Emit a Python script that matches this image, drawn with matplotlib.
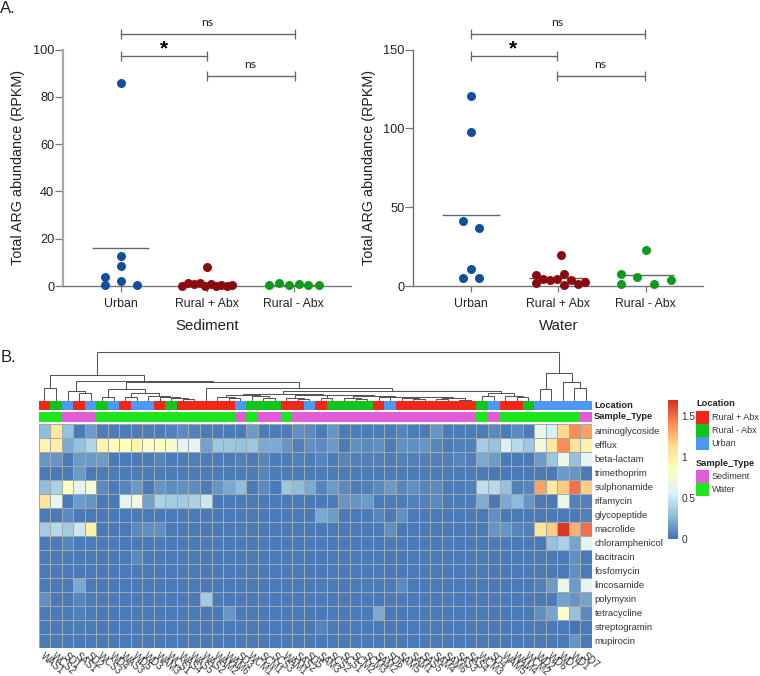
import numpy as np
import matplotlib
matplotlib.use('Agg')
import matplotlib.pyplot as plt
from matplotlib.colors import LinearSegmentedColormap, ListedColormap
from matplotlib.patches import Rectangle

plt.rcParams['font.family'] = ['Liberation Sans', 'DejaVu Sans']

# panel A values
groups = ['Urban', 'Rural + Abx', 'Rural - Abx']
sed_urban_x = [0, 0, 0, -0.18, 0, -0.18, 0.18]
sed_urban_y = [85.8, 12.5, 8.3, 3.7, 2.3, 0.5, 0.6]
sed_plus_x = [0, -0.29, -0.22, -0.16, -0.09, -0.03, 0.04, 0.10, 0.16, 0.23, 0.29]
sed_plus_y = [8.0, 0.2, 1.3, 0.7, 1.3, 0.0, 1.0, 0.1, 0.4, 0.1, 0.4]
sed_minus_x = [-0.29, -0.17, -0.06, 0.06, 0.17, 0.29]
sed_minus_y = [0.4, 1.1, 0.4, 1.0, 0.3, 0.4]

wat_urban_x = [0, 0, -0.09, 0.09, 0, -0.09, 0.09]
wat_urban_y = [120.4, 97.6, 41.0, 36.8, 11.0, 5.0, 5.3]
wat_plus_x = [0.03, -0.26, -0.26, -0.18, -0.10, -0.02, 0.06, 0.06, 0.15, 0.23, 0.31]
wat_plus_y = [19.6, 7.2, 1.9, 4.4, 3.6, 4.2, 7.6, 0.8, 3.8, 1.3, 2.7]
wat_minus_x = [0, -0.28, -0.28, -0.10, 0.10, 0.29]
wat_minus_y = [23.0, 7.4, 1.3, 5.7, 1.5, 3.6]

# panel B values
samples = ['WAS1', 'WCS2', 'SD1', 'SAS1', 'SD2', 'WCS3', 'WD4', 'WAS3', 'WD5', 'WD3', 'WAM3', 'WCS1',
           'WAS4', 'WAS5', 'WAS2', 'WAM2', 'WAM6', 'SD3', 'WCM1', 'SCM1', 'SCS3', 'WAM1', 'SAS2', 'SD5',
           'SAM3', 'SCS2', 'SCS1', 'SCM2', 'SCM3', 'SAM2', 'SD6', 'SAM5', 'SAM1', 'SAS5', 'SAM4', 'SAM6',
           'SAS3', 'SAS4', 'WCM3', 'SD4', 'WAM5', 'WAM4', 'WCM2', 'WD2', 'WD6', 'WD7', 'WD1', 'SD7']

aminoglycoside = [.28, 1.05, .30, .02, .15, .03, .03, .03, .03, .03, .03, .05, .08, .05, .03, .03,
                  .03, .03, .14, .03, .03, .03, .10, .08, .03, .13, .03, .03, .03, .03, .03, .06,
                  .03, .03, .13, .03, .03, .03, .03, .08, .03, .08, .03, .65, .55, 1.15, 1.42, 1.35]
efflux = [.95, 1.00, .20, .30, .40, .95, .88, .85, .95, .82, .85, .75, .60, .60, .17, .33,
          .33, .30, .33, .20, .20, .12, .04, .10, .08, .14, .03, .10, .08, .10, .03, .10,
          .10, .12, .07, .03, .05, .05, .35, .30, .55, .42, .33, .72, 1.05, 1.42, 1.10, .98]
beta_lactam = [.13, .12, .02, .14, .14, .15, .02, .02, .02, .02, .06, .03, .03, .04, .03, .03,
               .03, .05, .03, .07, .03, .03, .05, .03, .06, .03, .07, .05, .05, .05, .03, .05,
               .05, .04, .04, .04, .06, .04, .20, .15, .02, .02, .02, .15, .32, .65, .30, .60]
trimethoprim = [.02, .02, .02, .14, .02, .03, .03, .03, .03, .03, .03, .03, .03, .03, .03, .03,
                .03, .03, .03, .06, .03, .03, .03, .03, .03, .03, .03, .03, .03, .03, .03, .03,
                .03, .03, .03, .03, .03, .03, .02, .02, .02, .02, .02, .02, .02, .14, .13, .02]
sulphonamide = [.28, .38, .85, .60, .75, .08, .02, .07, .14, .02, .12, .09, .10, .09, .03, .13,
                .20, .28, .02, .08, .02, .33, .28, .20, .06, .14, .08, .03, .05, .08, .14, .07,
                .10, .07, .08, .03, .03, .04, .45, .42, .30, .05, .07, 1.35, 1.05, 1.20, 1.50, 1.20]
rifamycin = [1.10, .65, .02, .15, .12, .02, .02, .60, .70, .17, .38, .35, .34, .38, .50, .02,
             .02, .02, .02, .02, .02, .02, .02, .02, .02, .02, .12, .12, .15, .02, .03, .03,
             .05, .05, .08, .03, .03, .03, .22, .02, .20, .27, .12, .02, .02, .65, .05, .05]
glycopeptide = [.02, .02, .08, .02, .02, .02, .02, .02, .02, .02, .02, .02, .02, .02, .02, .02,
                .02, .02, .02, .02, .02, .02, .02, .02, .20, .15, .02, .02, .02, .07, .02, .10,
                .02, .02, .02, .02, .02, .02, .02, .10, .02, .02, .02, .02, .02, .02, .02, .05]
macrolide = [.35, .42, .35, .50, 1.00, .02, .02, .02, .08, .10, .10, .02, .02, .02, .02, .02,
             .02, .03, .02, .02, .02, .02, .02, .02, .02, .02, .02, .02, .02, .02, .10, .02,
             .02, .02, .02, .02, .02, .02, .02, .12, .12, .06, .05, 1.10, 1.20, 1.68, 1.30, 1.50]
chloramphenicol = [.02, .02, .07, .02, .03, .02, .02, .02, .02, .02, .02, .02, .02, .02, .02, .02,
                   .02, .02, .02, .02, .02, .02, .02, .02, .02, .02, .02, .02, .02, .02, .02, .02,
                   .02, .02, .02, .02, .02, .02, .02, .02, .02, .02, .02, .02, .30, .38, .18, .60]
bacitracin = [.02, .02, .02, .02, .02, .02, .02, .02, .08, .02, .02, .02, .02, .02, .02, .02,
              .02, .02, .02, .02, .02, .02, .02, .02, .02, .02, .02, .02, .02, .02, .02, .02,
              .02, .02, .02, .02, .02, .02, .02, .02, .02, .02, .02, .02, .02, .02, .10, .02]
fosfomycin = [.02, .02, .02, .02, .02, .02, .02, .02, .02, .02, .02, .02, .02, .02, .02, .02,
              .02, .02, .02, .02, .02, .02, .02, .02, .02, .02, .02, .02, .02, .02, .02, .02,
              .02, .02, .02, .02, .02, .02, .02, .02, .02, .02, .02, .02, .02, .02, .10, .02]
lincosamide = [.02, .02, .02, .20, .02, .02, .02, .02, .02, .02, .02, .02, .02, .02, .02, .02,
               .02, .02, .02, .02, .02, .02, .02, .02, .03, .03, .02, .02, .03, .03, .03, .08,
               .02, .02, .02, .02, .02, .02, .02, .02, .02, .02, .02, .05, .15, .65, .15, .60]
polymyxin = [.10, .02, .02, .07, .03, .02, .02, .02, .02, .02, .02, .02, .02, .02, .35, .02,
             .02, .02, .02, .02, .02, .02, .02, .02, .02, .02, .02, .02, .02, .02, .02, .02,
             .02, .02, .02, .02, .02, .02, .02, .02, .02, .02, .02, .02, .02, .17, .12, .18]
tetracycline = [.02, .02, .02, .05, .03, .02, .02, .02, .02, .02, .02, .02, .02, .02, .02, .02,
                .13, .02, .02, .02, .02, .02, .02, .02, .02, .02, .02, .02, .02, .20, .02, .02,
                .02, .02, .02, .02, .02, .02, .02, .02, .02, .02, .02, .10, .18, .80, .30, .08]
streptogramin = [.02, .02, .02, .03, .02, .02, .02, .02, .02, .02, .02, .02, .02, .02, .02, .02,
                 .02, .02, .02, .02, .02, .02, .02, .02, .07, .03, .02, .02, .02, .02, .02, .02,
                 .02, .02, .02, .02, .02, .02, .02, .02, .02, .02, .02, .02, .02, .02, .00, .02]
mupirocin = [.02, .02, .02, .02, .02, .02, .02, .02, .02, .02, .02, .02, .02, .02, .02, .02,
             .02, .02, .02, .02, .02, .02, .02, .02, .02, .02, .02, .02, .02, .02, .02, .02,
             .02, .02, .02, .02, .02, .02, .02, .02, .02, .02, .02, .02, .02, .02, .12, .02]

genes = ['aminoglycoside', 'efflux', 'beta-lactam', 'trimethoprim', 'sulphonamide', 'rifamycin',
         'glycopeptide', 'macrolide', 'chloramphenicol', 'bacitracin', 'fosfomycin', 'lincosamide',
         'polymyxin', 'tetracycline', 'streptogramin', 'mupirocin']
abundance = np.array([aminoglycoside, efflux, beta_lactam, trimethoprim, sulphonamide, rifamycin,
                      glycopeptide, macrolide, chloramphenicol, bacitracin, fosfomycin, lincosamide,
                      polymyxin, tetracycline, streptogramin, mupirocin])

# 0 rural + abx, 1 rural - abx, 2 urban
location = [0, 1, 2, 0, 2, 1, 2, 0, 2, 2, 0, 1, 0, 0, 0, 0, 0, 2, 1, 1, 1, 0, 0, 2,
            0, 1, 1, 1, 1, 0, 2, 0, 0, 0, 0, 0, 0, 0, 1, 2, 0, 0, 1, 2, 2, 2, 2, 2]
# 0 sediment, 1 water
sample_type = [1, 1, 0, 0, 0, 1, 1, 1, 1, 1, 1, 1, 1, 1, 1, 1, 1, 0, 1, 0, 0, 1, 0, 0,
               0, 0, 0, 0, 0, 0, 0, 0, 0, 0, 0, 0, 0, 0, 1, 0, 1, 1, 1, 1, 1, 1, 1, 0]

# clustering tree as (height, left, right), leaves are column numbers
stair_9_13 = (5.3, 9, (4.3, 10, (3.3, 11, (1.7, 12, 13))))
cluster_5_13 = (11.7, (4.3, 5, 6), (8.3, (4.3, 7, 8), stair_9_13))
left_15_20 = (6.0, (4.5, 15, (3.3, 16, 17)), (5.0, 18, (3.5, 19, 20)))
mid_21_25 = (3.3, 21, (2.5, 22, 23))
tail_31_37 = (3.6, (2.6, 31, (1.8, 32, 33)), (3.0, (2.0, 34, 35), (1.5, 36, 37)))
right_26_37 = (5.0, (2.8, 26, (1.8, 27, 28)), (4.4, 29, (4.0, 30, tail_31_37)))
cluster_15_37 = (7.0, left_15_20, (6.5, mid_21_25, (5.7, (3.5, 24, 25), right_26_37)))
cluster_38_42 = (8.3, (5.3, 38, 39), (5.3, 40, (3.7, 41, 42)))
cluster_14_42 = (12.7, 14, (10.3, cluster_15_37, cluster_38_42))
cluster_2_42 = (20.0, (10.0, 2, (8.3, 3, 4)), (19.5, cluster_5_13, cluster_14_42))
cluster_0_42 = (26.0, (13.0, 0, 1), cluster_2_42)
cluster_43_47 = (28.0, (12.0, 43, 44), (19.0, 45, (13.3, 46, 47)))
tree = (49.3, cluster_0_42, cluster_43_47)

colbar_ticks = [0, 0.5, 1, 1.5]
location_names = ['Rural + Abx', 'Rural - Abx', 'Urban']
sample_names = ['Sediment', 'Water']

dot_blue = '#0F4F9C'
dot_red = '#8B0A10'
dot_green = '#0F9A1C'
loc_colors = ['#F0281C', '#10C41C', '#4F97F5']
type_colors = ['#E05CD8', '#1EE61E']
heat = LinearSegmentedColormap.from_list(
    'heat', ['#4575B4', '#91BFDB', '#E0F3F8', '#FFFFBF', '#FEE090', '#FC8D59', '#D73027'])
vmax = 1.7

W, H = 760, 676
fig = plt.figure(figsize=(7.6, 6.76), dpi=100)


def px_axes(x0, y0, x1, y1):
    # axes from pixel box, y counted from the top
    return fig.add_axes([x0 / W, 1 - y1 / H, (x1 - x0) / W, (y1 - y0) / H])


def scatter_panel(box, xlim, ymax, yticks, series, bracket_x, bracket_y, spine_w, xlabel, label_x):
    ax = px_axes(*box)
    ax.set_xlim(*xlim)
    ax.set_ylim(0, ymax)
    for i, (xs, ys, col) in enumerate(series):
        ax.hlines(np.mean(ys), i - 0.33, i + 0.33, color='#666666', lw=1, zorder=2, clip_on=False)
        ax.scatter(np.array(xs) + i, ys, s=42, color=col, lw=0, zorder=3, clip_on=False)
    for a, b, y in bracket_y:
        ax.plot([bracket_x[a], bracket_x[b]], [y, y], color='#666666', lw=1, marker='|', ms=7,
                mew=0.9, clip_on=False)
    ax.spines[['top', 'right']].set_visible(False)
    ax.spines['left'].set_color('#a8a8a8' if spine_w > 1 else '#666666')
    ax.spines['left'].set_linewidth(spine_w)
    ax.spines['bottom'].set_color('#777777')
    ax.spines['bottom'].set_linewidth(1)
    ax.set_xticks(range(3), groups, fontsize=8.8, color='#222222')
    ax.set_yticks(yticks)
    ax.tick_params(axis='y', length=5.8, width=0.9, color='#777777', labelsize=9.2,
                   labelcolor='#222222', pad=0.5)
    ax.tick_params(axis='x', length=4.5, width=0.9, color='#777777', pad=4)
    ax.set_xlabel(xlabel, fontsize=10.8, color='#222222', labelpad=6.5)
    ax.set_ylabel('Total ARG abundance (RPKM)', fontsize=10.4, color='#222222')
    ax.yaxis.set_label_coords(label_x, 0.5)
    return ax


left = scatter_panel((63, 49.5, 351, 286), (-0.671, 2.662), 100, [0, 20, 40, 60, 80, 100],
                     [(sed_urban_x, sed_urban_y, dot_blue), (sed_plus_x, sed_plus_y, dot_red),
                      (sed_minus_x, sed_minus_y, dot_green)],
                     [0, 1, 2.01], [(0, 2, 106.4), (0, 1, 97.3), (1, 2, 88.6)], 1.6, 'Sediment', -0.132)
right = scatter_panel((413.3, 49.5, 703.3, 286), (-0.661, 2.661), 150, [0, 50, 100, 150],
                      [(wat_urban_x, wat_urban_y, dot_blue), (wat_plus_x, wat_plus_y, dot_red),
                       (wat_minus_x, wat_minus_y, dot_green)],
                      [0, 0.98, 1.99], [(0, 2, 159.6), (0, 1, 146), (1, 2, 132.9)], 0.9, 'Water', -0.129)

# heatmap
hx0, hx1, hy0, hy1 = 38.7, 591.7, 424, 647.7
ncol, nrow = abundance.shape[1], abundance.shape[0]
ax_h = px_axes(hx0, hy0, hx1, hy1)
ax_h.pcolormesh(abundance, cmap=heat, vmin=0, vmax=vmax, edgecolors='#a0a8b0', linewidth=0.4)
ax_h.set_xlim(0, ncol)
ax_h.set_ylim(nrow, 0)
ax_h.xaxis.tick_bottom()
ax_h.yaxis.tick_right()
ax_h.set_xticks(np.arange(ncol) + 0.25, samples, rotation=-40, ha='left', va='center',
                rotation_mode='anchor', fontsize=7, color='#333333')
ax_h.set_yticks(np.arange(nrow) + 0.5, genes, fontsize=6.8, color='#333333')
ax_h.tick_params(axis='y', length=0, pad=2)
ax_h.tick_params(axis='x', length=0, pad=5)
for s in ax_h.spines.values():
    s.set_visible(False)

# annotation strips
ax_loc = px_axes(hx0, 401.3, hx1, 410.3)
ax_loc.pcolormesh([location], cmap=ListedColormap(loc_colors), vmin=0, vmax=2, linewidth=0)
ax_type = px_axes(hx0, 412, hx1, 422)
ax_type.pcolormesh([sample_type], cmap=ListedColormap(type_colors), vmin=0, vmax=1, linewidth=0)
for a, name in ((ax_loc, 'Location'), (ax_type, 'Sample_Type')):
    a.set_xlim(0, ncol)
    a.axis('off')
    a.text(ncol + 0.2, 0.5, name, fontsize=6.7, fontweight='bold', color='#222222',
           va='center', ha='left', transform=a.get_xaxis_transform())

# dendrogram
ax_d = px_axes(hx0, 345, hx1, 401)
ax_d.set_xlim(0, ncol)
ax_d.set_ylim(0, 56)
ax_d.axis('off')


def draw_node(node):
    if isinstance(node, int):
        return node + 0.5, 0
    h, a, b = node
    xa, ha = draw_node(a)
    xb, hb = draw_node(b)
    ax_d.plot([xa, xa, xb, xb], [ha, h, h, hb], color='#555555', lw=0.75, solid_joinstyle='miter')
    return (xa + xb) / 2, h


draw_node(tree)

# colour bar
ax_c = px_axes(668, 400, 677.3, 539)
ax_c.imshow(np.linspace(vmax, 0, 100)[:, None], cmap=heat, vmin=0, vmax=vmax, aspect='auto',
            extent=[0, 1, 0, vmax])
ax_c.set_xticks([])
ax_c.yaxis.tick_right()
ax_c.set_yticks(colbar_ticks, [str(t) for t in colbar_ticks], fontsize=7.3, color='#333333')
ax_c.tick_params(axis='y', length=0, pad=3)
for s in ax_c.spines.values():
    s.set_visible(False)

# overlay in pixels for labels and legends
ov = fig.add_axes([0, 0, 1, 1], zorder=10)
ov.set_xlim(0, W)
ov.set_ylim(H, 0)
ov.axis('off')
ov.text(0, 8.5, 'A.', fontsize=12, va='center', color='#222222')
ov.text(1, 357, 'B.', fontsize=12, va='center', color='#222222')
for x, y, s in ((207, 22.7, 'ns'), (250, 64.5, 'ns'), (557, 22.7, 'ns'), (600, 64.5, 'ns')):
    ov.text(x, y, s, fontsize=8.8, family='Lato', ha='center', va='center', color='#222222')
for x in (163.7, 513.3):
    ov.text(x, 48.5, '*', fontsize=15, fontweight='bold', ha='center', va='center', color='black')


def legend_block(title, names, colors, y_title, y_top):
    ov.text(696, y_title, title, fontsize=6.7, fontweight='bold', va='center', color='#222222')
    for i, (name, col) in enumerate(zip(names, colors)):
        y = y_top + i * 13.2
        ov.add_patch(Rectangle((696, y), 13, 13.2, facecolor=col, edgecolor='none'))
        ov.text(711.7, y + 6.6, name, fontsize=6.5, va='center', color='#333333')


legend_block('Location', location_names, loc_colors, 404, 410.5)
legend_block('Sample_Type', sample_names, type_colors, 463.5, 469.5)

fig.savefig('out.png', dpi=100)
